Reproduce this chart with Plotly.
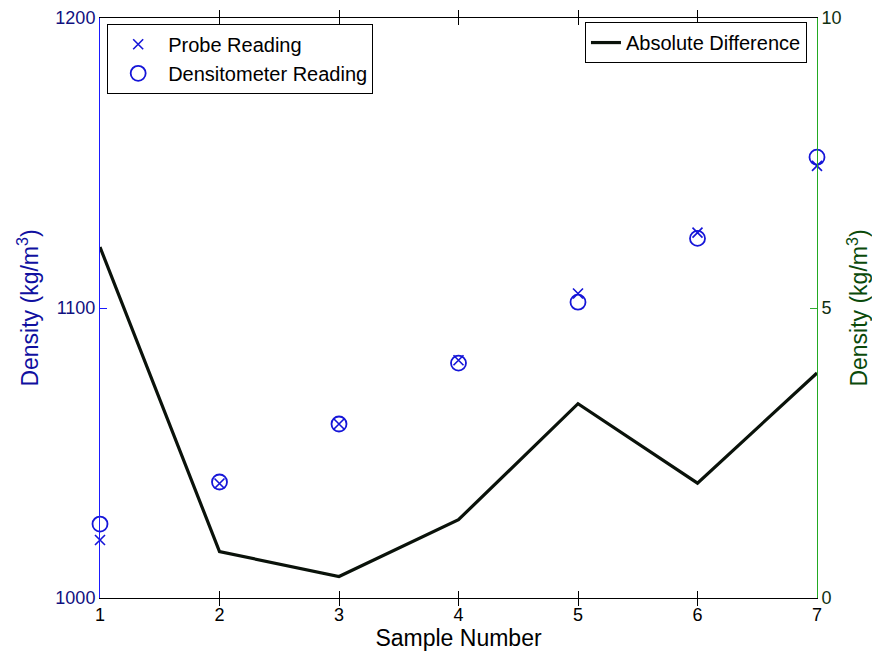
import plotly.graph_objects as go

samples = [1, 2, 3, 4, 5, 6, 7]
probe = [1020, 1039.5, 1060, 1082, 1105, 1126, 1149]
densitometer = [1025.5, 1040, 1060, 1081, 1102, 1124, 1152]
abs_diff = [6.05, 0.8, 0.37, 1.35, 3.35, 1.98, 3.88]

font_family = "Liberation Sans, Arial, sans-serif"

fig = go.Figure()
fig.add_trace(go.Scatter(
    x=samples, y=probe, mode="markers", name="Probe Reading",
    marker=dict(symbol="x-thin", size=10, line=dict(color="#1515d8", width=1.6), color="#1515d8"),
    legend="legend", yaxis="y", cliponaxis=False))
fig.add_trace(go.Scatter(
    x=samples, y=densitometer, mode="markers", name="Densitometer Reading",
    marker=dict(symbol="circle-open", size=15, line=dict(color="#1515d8", width=1.8), color="#1515d8"),
    legend="legend", yaxis="y", cliponaxis=False))
fig.add_trace(go.Scatter(
    x=samples, y=abs_diff, mode="lines", name="Absolute Difference",
    line=dict(color="#0a120a", width=3.2),
    legend="legend2", yaxis="y2"))

fig.update_layout(
    width=872, height=648,
    margin=dict(l=92, r=63, t=10, b=58, autoexpand=False),
    paper_bgcolor="white", plot_bgcolor="white",
    font=dict(family=font_family, size=18, color="black"),
    xaxis=dict(
        range=[1, 7], tickvals=samples, ticks="inside", ticklen=7, tickcolor="black",
        showline=True, linecolor="black", linewidth=1, mirror="allticks",
        showgrid=False, zeroline=False, automargin=False,
        title=dict(text="Sample Number", font=dict(size=23, color="black"), standoff=2),
        tickfont=dict(size=18, color="black"),
    ),
    yaxis=dict(
        range=[1000, 1200], tickvals=[1000, 1100, 1200], ticks="inside", ticklen=7,
        tickcolor="#1a1aff", showline=True, linecolor="#1a1aff", linewidth=1,
        showgrid=False, zeroline=False, automargin=False,
        tickfont=dict(size=18, color="#101080"),
        title=dict(text="Density (kg/m<sup>3</sup>)", font=dict(size=23, color="#1010a0"), standoff=10),
    ),
    yaxis2=dict(
        range=[0, 10], tickvals=[0, 5, 10], ticks="inside", ticklen=7,
        tickcolor="#33aa33", showline=True, linecolor="#22aa22", linewidth=1,
        overlaying="y", side="right", showgrid=False, zeroline=False, automargin=False,
        tickfont=dict(size=18, color="#103010"),
        title=dict(text="Density (kg/m<sup>3</sup>)", font=dict(size=23, color="#0a4a0a"), standoff=10),
    ),
    legend=dict(
        x=0.01, y=0.99, xanchor="left", yanchor="top",
        bordercolor="black", borderwidth=1, bgcolor="white",
        font=dict(size=20, color="black"), tracegroupgap=0, itemwidth=50,
    ),
    legend2=dict(
        x=0.986, y=0.993, xanchor="right", yanchor="top",
        bordercolor="black", borderwidth=1, bgcolor="white",
        font=dict(size=20, color="black"), itemwidth=30,
    ),
    showlegend=True,
)

fig.write_html("out.html")
